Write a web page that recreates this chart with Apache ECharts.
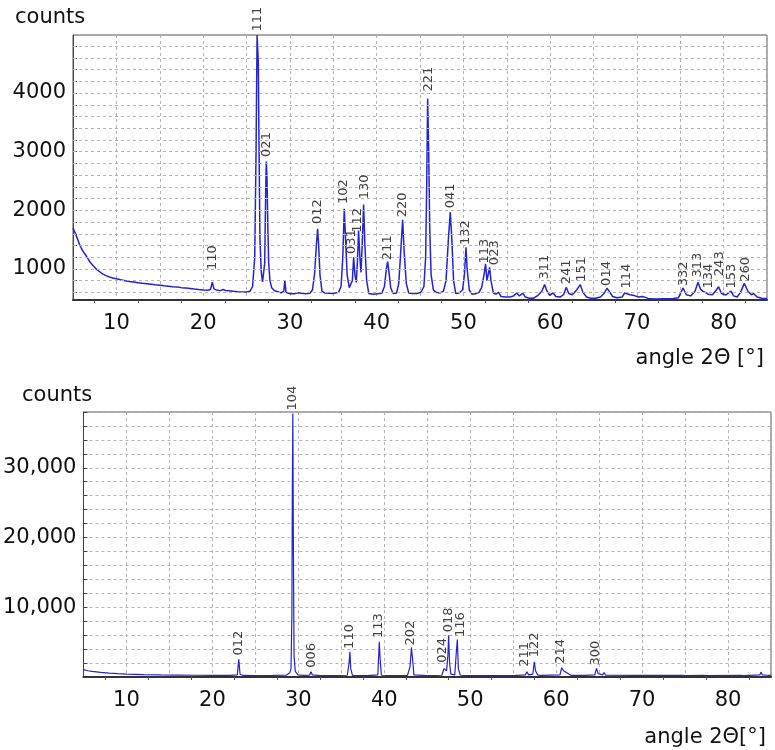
<!DOCTYPE html>
<html><head><meta charset="utf-8">
<script src="https://cdn.jsdelivr.net/npm/echarts@6/dist/echarts.min.js"></script>
<style>html,body{margin:0;padding:0;background:#fff}#c{width:775px;height:750px}</style>
</head><body><div id="c"></div>
<script>
// ---------- top pattern (aragonite) ----------
const topAngles = [5.0,5.2,5.4,5.6,5.8,6.0,6.2,6.4,6.7,7.0,7.3,7.6,8.0,8.4,8.8,9.2,9.6,10.0,10.5,11.0,11.5,12.0,12.5,13.0,13.5,14.0,14.5,15.0,15.5,16.0,16.5,17.0,17.5,18.0,18.5,19.0,19.5,20.0,20.5,20.85,21.06,21.25,21.5,22.0,22.3,22.6,23.0,23.5,24.0,24.5,25.0,25.4,25.7,25.95,26.1,26.22,26.3,26.36,26.45,26.55,26.7,26.85,27.0,27.1,27.2,27.28,27.36,27.46,27.56,27.7,27.9,28.2,28.6,29.0,29.3,29.42,29.55,30.0,30.5,30.95,31.15,31.35,31.8,32.3,32.6,32.85,33.05,33.2,33.32,33.47,33.7,34.0,34.5,35.0,35.6,35.9,36.1,36.27,36.42,36.6,36.85,37.05,37.2,37.35,37.5,37.65,37.78,37.92,38.07,38.2,38.36,38.5,38.65,38.85,39.1,39.6,40.1,40.6,40.9,41.12,41.27,41.42,41.62,41.9,42.3,42.55,42.78,43.0,43.17,43.42,43.7,44.1,44.6,45.1,45.45,45.65,45.78,45.88,46.0,46.12,46.28,46.55,46.9,47.3,47.7,48.0,48.27,48.49,48.67,48.87,49.12,49.5,49.9,50.12,50.3,50.43,50.68,51.0,51.4,51.8,52.1,52.38,52.56,52.72,52.82,53.02,53.18,53.45,53.75,54.05,54.35,54.9,55.4,55.8,56.15,56.45,56.85,57.15,57.6,58.1,58.6,59.05,59.36,59.65,59.95,60.35,60.65,61.15,61.55,61.86,62.15,62.55,63.0,63.48,63.78,64.2,64.7,65.2,65.8,66.2,66.56,66.9,67.2,67.7,68.3,68.6,68.78,69.2,69.7,70.2,70.6,71.0,71.4,72.2,73.2,74.2,74.8,75.32,75.7,76.2,76.7,77.05,77.35,77.6,77.89,78.2,78.7,79.05,79.42,79.75,80.25,80.85,81.15,81.55,81.95,82.38,82.8,83.2,83.45,83.85,84.4,85.0];
const topCounts = [1700,1630,1555,1480,1400,1340,1290,1250,1180,1110,1060,1010,960,915,885,862,845,832,815,800,787,776,765,756,748,740,730,721,712,705,696,690,681,673,665,656,648,642,638,650,775,660,642,630,648,632,626,618,612,607,605,618,700,1200,3000,4990,4990,4530,3000,1500,950,780,800,1100,2200,2830,2570,1700,1100,800,680,632,612,592,620,800,600,578,576,592,617,585,575,585,640,920,1400,1684,1400,900,620,590,585,580,600,700,1200,2025,1500,900,680,660,800,1198,900,770,1100,1655,1200,942,1500,2099,1400,800,580,570,575,585,700,1000,1125,950,680,580,590,750,1300,1837,1300,750,590,580,580,600,700,1200,2500,3906,3050,1700,900,640,600,590,620,800,1500,1968,1500,800,580,590,640,900,1369,1000,640,570,575,600,680,900,1085,800,780,1027,800,590,570,600,530,520,520,540,590,540,585,520,500,500,550,620,732,620,550,590,530,520,560,686,580,560,630,732,600,520,500,500,520,580,670,600,530,510,520,590,600,560,545,520,530,515,490,485,490,495,510,675,560,540,620,771,650,620,600,570,560,620,697,580,555,620,540,520,600,754,620,560,580,520,500,495];
const topPeakNames  = ['110','111','021','012','102','031','112','130','211','220','221','041','132','113','023','311','241','151','014','114','332','313','134','243','153','260'];
const topPeakAngles = [21.09,26.28,27.36,33.2,36.19,37.16,37.81,38.61,41.27,43.04,45.99,48.49,50.22,52.41,53.55,59.33,61.95,63.59,66.48,68.86,75.39,77.05,78.27,79.54,80.96,82.58];
const topPeakCounts = [920,4990,2851,1706,2048,1193,1557,2128,1090,1820,3968,1974,1347,1034,1005,760,680,720,651,607,646,795,607,817,607,720];
const topXLabels = [10,20,30,40,50,60,70,80];
const topYLabels = [1000,2000,3000,4000];
const topYTicks = [600,800,1000,1200,1400,1600,1800,2000,2200,2400,2600,2800,3000,3200,3400,3600,3800,4000,4200,4400,4600,4800];

// ---------- bottom pattern (calcite) ----------
const botAngles = [5.0,5.5,6.0,7.0,8.0,9.0,10.0,12.0,14.0,16.0,18.0,20.0,22.0,22.9,23.07,23.22,23.6,25.0,27.0,28.6,29.0,29.15,29.25,29.3,29.36,29.43,29.5,29.65,29.95,30.6,31.3,31.48,31.63,32.6,34.0,35.7,35.9,36.0,36.1,36.3,38.0,39.25,39.42,39.52,39.67,41.0,42.7,43.0,43.16,43.3,43.45,45.0,46.7,46.95,47.1,47.25,47.4,47.49,47.6,47.75,48.2,48.38,48.5,48.62,48.85,50.0,55.0,56.4,56.61,56.8,57.28,57.46,57.6,57.85,58.2,60.45,60.64,60.85,61.05,61.25,61.45,61.75,63.0,63.14,63.3,64.5,64.69,64.88,65.4,65.58,65.75,69.1,69.25,69.4,70.05,70.21,70.4,72.8,72.93,73.1,74.7,74.85,75.0,77.15,77.29,77.45,81.5,81.62,81.8,83.7,83.83,84.0,84.55,84.7,84.85,85.0];
const botCounts = [1050,900,800,650,550,480,420,350,300,280,250,230,220,300,2530,400,220,210,220,250,600,1200,9000,26000,37800,17500,3000,800,300,220,260,760,300,210,200,250,2000,3620,1200,230,210,300,5050,2500,250,200,230,1500,4240,2500,300,200,250,1200,1480,900,3000,6000,2000,400,300,3500,5380,1200,250,200,200,300,760,300,400,2190,900,300,220,300,1330,900,800,600,400,220,250,400,220,300,1240,500,300,650,250,230,320,220,250,400,220,250,520,230,220,280,210,250,520,210,250,520,210,300,700,300,250,350,220,220];
const botPeakNames  = ['012','104','006','110','113','202','024','018','116','211','122','214','300'];
const botPeakAngles = [23.07,29.36,31.57,35.94,39.3,43.08,46.8,47.49,48.88,56.3,57.46,60.56,64.61];
const botPeakCounts = [2571,37714,814,3529,5100,4000,1529,5900,5243,957,2329,1386,1143];
const botXLabels = [10,20,30,40,50,60,70,80];
const botYLabels = [10000,20000,30000];

const FONT = 'DejaVu Sans';
const LINE = '#2323d2';
const GRIDC = '#b4b4b4';

function pairs(xs, ys){ return xs.map((x,i)=>[x, ys[i]]); }
function peaks(names, xs, ys){ return names.map((n,i)=>({name:n, value:[xs[i], ys[i]]})); }

const peakLabel = {show:true, formatter:'{b}', position:'top', distance:3, rotate:90,
  align:'left', verticalAlign:'middle', fontSize:13, fontFamily:FONT, color:'#111'};

function xAxisFor(gi, labels){
  return {gridIndex:gi, type:'value', min:5, max:85, interval:5,
    axisLine:{show:true, onZero:false, lineStyle:{color:'#333', width:2}},
    axisTick:{show:false},
    minorTick:{show:true, splitNumber:2, length:3, lineStyle:{color:'#555'}},
    axisLabel:{formatter:v=>labels.includes(v)?String(v):'', fontSize:21, fontFamily:FONT, color:'#111', margin:13},
    splitLine:{show:true, lineStyle:{color:GRIDC, type:[3,3], width:1}}};
}
const nameStyle = {fontFamily:FONT, fontSize:21, fontWeight:'normal', color:'#111'};

const chart = echarts.init(document.getElementById('c'));
chart.setOption({
  animation:false,
  backgroundColor:'#fff',
  title:[
    {text:'counts', left:10, top:2, textStyle:nameStyle},
    {text:'angle 2\u0398 [\u00b0]', right:6, top:343, textStyle:nameStyle},
    {text:'counts', left:17, top:380, textStyle:nameStyle},
    {text:'angle 2\u0398[\u00b0]', right:4, top:722, textStyle:nameStyle}
  ],
  grid:[
    {left:73, top:35, width:694, height:265, show:true, borderColor:'#555', borderWidth:1, backgroundColor:'#fff'},
    {left:81, top:412, width:690, height:265, show:true, borderColor:'#555', borderWidth:1, backgroundColor:'#fff'}
  ],
  xAxis:[ xAxisFor(0, topXLabels), xAxisFor(1, botXLabels) ],
  yAxis:[
    {gridIndex:0, type:'value', min:470, max:4990,
      axisLine:{show:true, lineStyle:{color:'#444'}},
      axisTick:{show:true, inside:true, length:4, customValues:topYTicks, lineStyle:{color:'#444'}},
      axisLabel:{customValues:topYLabels, formatter:v=>String(v), fontSize:21, fontFamily:FONT, color:'#111', margin:7},
      splitLine:{show:false}},
    {gridIndex:1, type:'value', min:0, max:38000, interval:2000,
      axisLine:{show:true, lineStyle:{color:'#444'}},
      axisTick:{show:true, inside:true, length:4, lineStyle:{color:'#444'}},
      axisLabel:{formatter:v=>botYLabels.includes(v)?v.toLocaleString('en-US'):'', fontSize:21, fontFamily:FONT, color:'#111', margin:7},
      splitLine:{show:true, lineStyle:{color:GRIDC, type:[3,3], width:1}}}
  ],
  series:[
    {type:'line', xAxisIndex:0, yAxisIndex:0, data:[[5,470]], showSymbol:false, silent:true, z:1,
      lineStyle:{opacity:0},
      markLine:{silent:true, symbol:['none','none'], label:{show:false}, animation:false,
        lineStyle:{color:GRIDC, type:[3,3], width:1},
        data: topYTicks.map(v=>({yAxis:v}))}},
    {type:'line', xAxisIndex:0, yAxisIndex:0, data:pairs(topAngles, topCounts), showSymbol:false,
      lineStyle:{color:LINE, width:1.5}, z:3, silent:true},
    {type:'line', xAxisIndex:1, yAxisIndex:1, data:pairs(botAngles, botCounts), showSymbol:false,
      lineStyle:{color:LINE, width:1.2}, z:3, silent:true},
    {type:'scatter', xAxisIndex:0, yAxisIndex:0, data:peaks(topPeakNames, topPeakAngles, topPeakCounts),
      symbolSize:1, itemStyle:{color:'rgba(0,0,0,0)'}, label:peakLabel, z:5, silent:true, clip:false},
    {type:'scatter', xAxisIndex:1, yAxisIndex:1, data:peaks(botPeakNames, botPeakAngles, botPeakCounts),
      symbolSize:1, itemStyle:{color:'rgba(0,0,0,0)'}, label:peakLabel, z:5, silent:true, clip:false}
  ]
});
</script></body></html>
